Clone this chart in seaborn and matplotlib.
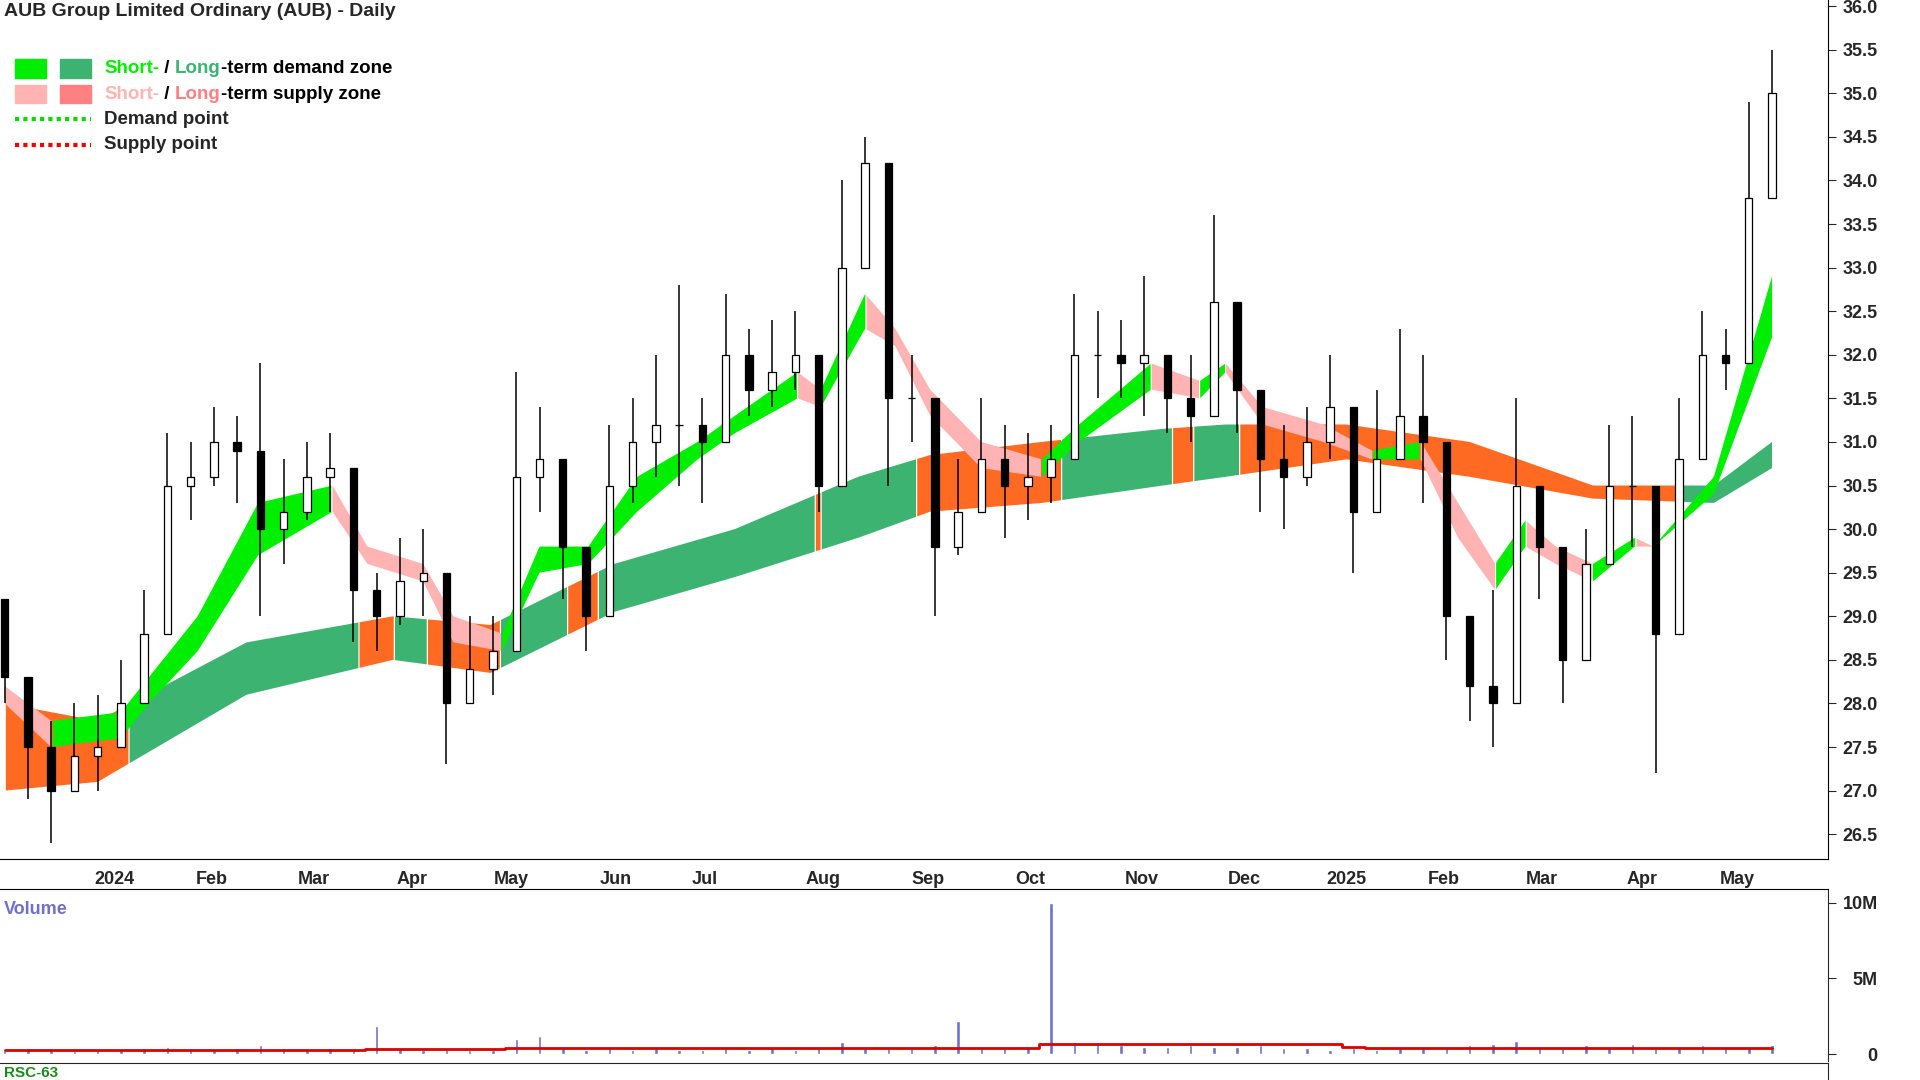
import numpy as np
import pandas as pd
import matplotlib
matplotlib.use("Agg")
import matplotlib.pyplot as plt
import seaborn as sns
from matplotlib.patches import Rectangle

# ---- weekly price data (index = week number from early Dec 2023) ----
opens  = [29.2,28.3,27.5,27.0,27.4,27.5,28.0,28.8,30.5,30.6,31.0,30.9,30.0,30.2,30.6,30.7,29.3,29.0,29.4,29.5,28.0,28.4,
          28.6,30.6,30.8,29.8,29.0,30.5,31.0,31.2,31.2,31.0,32.0,31.6,31.8,32.0,30.5,33.0,34.2,31.5,31.5,29.8,30.2,30.8,
          30.5,30.6,30.8,32.0,32.0,31.9,32.0,31.5,31.3,32.6,31.6,30.8,30.6,31.0,31.4,30.2,30.8,31.3,31.0,29.0,28.2,28.0,
          30.5,29.8,28.5,29.6,30.5,30.5,28.8,30.8,32.0,31.9,33.8]
highs  = [29.2,28.0,27.8,28.0,28.1,28.5,29.3,31.1,31.0,31.4,31.3,31.9,30.8,31.0,31.1,30.0,29.5,29.9,30.0,28.8,29.0,29.0,
          31.8,31.4,30.5,29.8,31.2,31.5,32.0,32.8,31.5,32.7,32.3,32.4,32.5,31.7,34.0,34.5,33.5,32.0,30.6,30.8,31.5,31.2,
          31.1,31.2,32.7,32.5,32.4,32.9,32.0,32.0,33.6,32.0,31.3,31.2,31.4,32.0,31.0,31.6,32.3,32.0,30.5,29.0,29.3,31.5,
          30.5,29.3,30.0,31.2,31.3,30.5,31.5,32.5,32.3,34.9,35.5]
lows   = [28.0,26.9,26.4,27.0,27.0,27.5,28.2,29.5,30.1,30.5,30.3,29.0,29.6,30.1,30.2,28.7,28.6,28.9,29.0,27.3,28.0,28.1,
          29.8,30.2,29.2,28.6,29.8,30.3,30.6,30.5,30.3,31.3,31.3,31.4,31.6,30.2,32.0,33.6,30.5,31.0,29.0,29.7,30.2,29.9,
          30.1,30.3,31.3,31.5,31.5,31.3,31.1,31.0,31.8,31.1,30.2,30.0,30.5,30.8,29.5,30.3,30.8,30.3,28.5,27.8,27.5,29.5,
          29.2,28.0,29.2,29.8,29.8,27.2,30.0,31.3,31.6,32.6,34.3]
closes = [28.3,27.5,27.0,27.4,27.5,28.0,28.8,30.5,30.6,31.0,30.9,30.0,30.2,30.6,30.7,29.3,29.0,29.4,29.5,28.0,28.4,28.6,
          30.6,30.8,29.8,29.0,30.5,31.0,31.2,31.2,31.0,32.0,31.6,31.8,32.0,30.5,33.0,34.2,31.5,31.5,29.8,30.2,30.8,30.5,
          30.6,30.8,32.0,32.0,31.9,32.0,31.5,31.3,32.6,31.6,30.8,30.6,31.0,31.4,30.2,30.8,31.3,31.0,29.0,28.2,28.0,30.5,
          29.8,28.5,29.6,30.5,30.5,28.8,30.8,32.0,31.9,33.8,35.0]
volume_m = [0.3,0.4,0.3,0.2,0.3,0.3,0.4,0.5,0.4,0.3,0.4,0.6,0.4,0.3,0.4,0.3,1.9,0.4,0.3,0.4,0.3,0.3,1.0,1.2,0.4,0.3,
            0.4,0.3,0.4,0.3,0.3,0.4,0.3,0.4,0.3,0.4,0.8,0.5,0.4,0.4,0.6,2.2,0.5,0.4,0.5,10.0,0.8,0.7,0.6,0.5,0.5,0.6,
            0.5,0.5,0.6,0.4,0.4,0.3,0.4,0.3,0.4,0.4,0.5,0.6,0.7,0.9,0.5,0.5,0.6,0.5,0.7,0.5,0.5,0.6,0.5,0.5,0.6]
vol_avg_m = [0.3,0.3,0.3,0.3,0.3,0.3,0.3,0.3,0.3,0.3,0.3,0.3,0.3,0.3,0.3,0.3,0.35,0.35,0.35,0.35,0.35,0.35,0.4,0.4,
             0.4,0.4,0.4,0.4,0.4,0.4,0.4,0.4,0.4,0.4,0.4,0.4,0.4,0.4,0.4,0.4,0.4,0.45,0.45,0.45,0.45,0.7,0.7,0.7,0.7,
             0.7,0.7,0.7,0.7,0.7,0.7,0.7,0.7,0.7,0.5,0.45,0.45,0.45,0.45,0.45,0.45,0.45,0.45,0.45,0.45,0.45,0.45,0.45,
             0.45,0.45,0.45,0.45,0.45]

# ---- zones (sampled at week positions) ----
lt_k     = [0, 4, 10.4, 16.7, 20.9, 26.2, 31.4, 36.7, 39.8, 44.6, 49.8, 52.5, 57.7, 63, 68.3, 73.5, 76]
lt_upper = [28.0, 27.8, 28.7, 29.0, 28.9, 29.6, 30.0, 30.6, 30.85, 31.0, 31.15, 31.2, 31.2, 31.0, 30.5, 30.5, 31.0]
lt_lower = [27.0, 27.1, 28.1, 28.5, 28.35, 29.05, 29.45, 29.9, 30.2, 30.3, 30.5, 30.6, 30.8, 30.6, 30.35, 30.3, 30.7]

st_k     = [0, 2, 5, 6.2, 8.3, 10.9, 14.1, 15.6, 18, 19.3, 21.4, 23, 25.1, 27.2, 29.8, 31.4, 34.1, 35.1, 37, 38.3,
            39.8, 42, 44.6, 46.2, 49.3, 51.4, 52.5, 54.1, 56.7, 58.8, 60.9, 62.5, 64.1, 65.4, 66.7, 68.3, 70.1,
            70.9, 73.5, 76]
st_upper = [28.2, 27.8, 27.9, 28.3, 29.0, 30.3, 30.5, 29.8, 29.6, 29.0, 28.8, 29.8, 29.8, 30.6, 31.0, 31.3, 31.8,
            31.6, 32.7, 32.3, 31.6, 31.0, 30.8, 31.2, 31.9, 31.7, 31.9, 31.4, 31.2, 30.9, 31.0, 30.3, 29.6, 30.1,
            29.8, 29.6, 29.9, 29.8, 30.6, 32.9]
st_lower = [28.0, 27.5, 27.6, 28.0, 28.6, 29.7, 30.2, 29.6, 29.4, 28.7, 28.6, 29.5, 29.6, 30.2, 30.8, 31.1, 31.5,
            31.4, 32.3, 32.1, 31.3, 30.7, 30.6, 31.0, 31.6, 31.5, 31.8, 31.2, 31.0, 30.8, 30.8, 29.9, 29.3, 29.8,
            29.6, 29.4, 29.8, 29.8, 30.4, 32.2]

month_labels = ["2024", "Feb", "Mar", "Apr", "May", "Jun", "Jul", "Aug", "Sep", "Oct", "Nov", "Dec",
                "2025", "Feb", "Mar", "Apr", "May"]
month_pos = [4.7, 8.9, 13.3, 17.5, 21.8, 26.3, 30.1, 35.2, 39.7, 44.1, 48.9, 53.3, 57.7, 61.9, 66.1, 70.4, 74.5]
price_ticks = [26.5, 27.0, 27.5, 28.0, 28.5, 29.0, 29.5, 30.0, 30.5, 31.0, 31.5, 32.0, 32.5, 33.0, 33.5,
               34.0, 34.5, 35.0, 35.5, 36.0]

C_ST_DEM, C_LT_DEM = "#00ee00", "#3cb371"
C_ST_SUP, C_LT_SUP = "#ffb3b3", "#ff6a22"

sns.set_style("white")
plt.rcParams['font.family'] = ['Liberation Sans', 'DejaVu Sans']

fig = plt.figure(figsize=(19.2, 10.8), dpi=100)
ax = fig.add_axes([0.0, 0.205, 0.952, 0.795])
axv = fig.add_axes([0.0, 0.018, 0.952, 0.159])
axr = fig.add_axes([0.0, -0.05, 0.952, 0.066])

wk = np.arange(len(closes))
fine = np.linspace(0, 76, 1500)
lu = np.interp(fine, lt_k, lt_upper)
ll = np.interp(fine, lt_k, lt_lower)
su = np.interp(fine, st_k, st_upper)
sl = np.interp(fine, st_k, st_lower)

wk_close_f = np.interp(fine, wk, closes)
lt_sup = wk_close_f < lu + 0.3
ax.fill_between(fine, ll, lu, where=~lt_sup, color=C_LT_DEM, lw=0, zorder=1)
ax.fill_between(fine, ll, lu, where=lt_sup, color=C_LT_SUP, lw=0, zorder=1)
slope = np.gradient(su + sl)
ax.fill_between(fine, sl, su, where=slope >= 0, color=C_ST_DEM, lw=0, zorder=2)
ax.fill_between(fine, sl, su, where=slope < 0, color=C_ST_SUP, lw=0, zorder=2)

o, h, l, c = map(np.array, (opens, highs, lows, closes))
ax.vlines(wk, l, h, color="black", lw=1.1, zorder=3)
up = c >= o
ax.bar(wk[up], (c - o)[up], bottom=o[up], width=0.32, color="white", edgecolor="black", lw=0.9, zorder=4)
ax.bar(wk[~up], (o - c)[~up], bottom=c[~up], width=0.32, color="black", edgecolor="black", lw=0.9, zorder=4)

ax.set_xlim(-0.2, 78.4)
ax.set_ylim(26.22, 36.07)
ax.yaxis.tick_right()
ax.set_yticks(price_ticks)
ax.set_yticklabels([f"{t:.1f}" for t in price_ticks], fontsize=13, fontweight="bold")
ax.tick_params(axis="y", length=6, direction="out", pad=30)
for lab in ax.get_yticklabels():
    lab.set_horizontalalignment("right")
ax.set_xticks([])
for s in ["top", "left"]:
    ax.spines[s].set_visible(False)
ax.spines["bottom"].set_color("black")
ax.spines["right"].set_color("black")
for m, p in zip(month_labels, month_pos):
    ax.text(p, -0.014, m, transform=ax.get_xaxis_transform(), ha="center", va="top",
            fontsize=13, fontweight="bold")
ax.text(0.002, 0.997, "AUB Group Limited Ordinary (AUB) - Daily", transform=ax.transAxes,
        ha="left", va="top", fontsize=14, fontweight="bold")

leg = [((C_ST_DEM, C_LT_DEM), [("Short-", C_ST_DEM), (" / ", "black"), ("Long", C_LT_DEM), ("-term demand zone", "black")]),
       ((C_ST_SUP, "#ff8080"), [("Short-", C_ST_SUP), (" / ", "black"), ("Long", "#ff8080"), ("-term supply zone", "black")])]
y0 = 0.92
for i, (cols, parts) in enumerate(leg):
    y = y0 - i * 0.0295
    ax.add_patch(Rectangle((0.008, y - 0.011), 0.017, 0.022, transform=ax.transAxes, color=cols[0], clip_on=False))
    ax.add_patch(Rectangle((0.033, y - 0.011), 0.017, 0.022, transform=ax.transAxes, color=cols[1], clip_on=False))
    txt = ax.text(0.057, y, parts[0][0], transform=ax.transAxes, va="center", fontsize=13.5,
                  fontweight="bold", color=parts[0][1])
    for s, col in parts[1:]:
        txt = ax.annotate(s, xycoords=txt, xy=(1, 0), va="bottom", fontsize=13.5, fontweight="bold", color=col)
for i, (lab, col) in enumerate([("Demand point", "#00dd00"), ("Supply point", "#ee0000")]):
    y = y0 - (i + 2) * 0.0295
    ax.plot([0.008, 0.05], [y, y], transform=ax.transAxes, ls=(0, (1, 1)), lw=3, color=col, clip_on=False)
    ax.text(0.057, y, lab, transform=ax.transAxes, va="center", fontsize=13.5, fontweight="bold")

vdf = pd.DataFrame({"wk": wk, "vol": volume_m, "avg": vol_avg_m})
axv.bar(vdf["wk"], vdf["vol"], width=0.15, color="#7070cc")
sns.lineplot(data=vdf, x="wk", y="avg", ax=axv, color="#dd0000", lw=2, drawstyle="steps-mid")
axv.set_xlim(-0.2, 78.4)
axv.set_ylim(-0.4, 10.9)
axv.set_xlabel(""); axv.set_ylabel("")
axv.set_xticks([])
axv.yaxis.tick_right()
axv.set_yticks([0, 5, 10])
axv.set_yticklabels(["0", "5M", "10M"], fontsize=13, fontweight="bold")
axv.tick_params(axis="y", length=6, pad=30)
for lab in axv.get_yticklabels():
    lab.set_horizontalalignment("right")
for s in ["left", "bottom"]:
    axv.spines[s].set_visible(False)
axv.spines["top"].set_color("black")
axv.text(0.002, 0.93, "Volume", transform=axv.transAxes, va="top", fontsize=13, fontweight="bold", color="#7070cc")

axr.set_xticks([]); axr.set_yticks([])
for s in ["left", "bottom"]:
    axr.spines[s].set_visible(False)
fig.text(0.002, 0.0, "RSC-63", ha="left", va="bottom", fontsize=11, fontweight="bold", color="#1a8a1a")
axr.set_xlim(-0.2, 78.4)

fig.savefig("out.png", dpi=100)
